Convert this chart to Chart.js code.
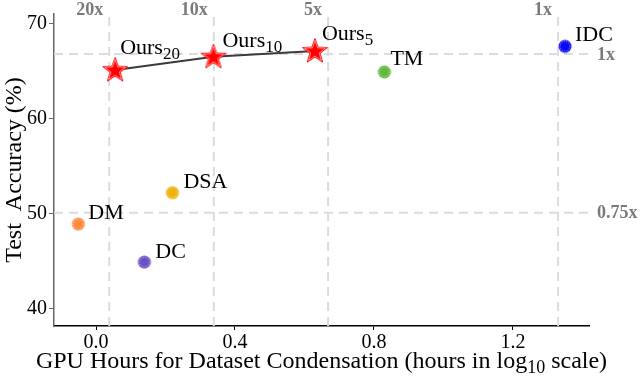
<!DOCTYPE html>
<html>
<head>
<meta charset="utf-8">
<script src="https://cdn.jsdelivr.net/npm/chart.js@4"></script>
<style>
  body { margin: 0; background: #fff; }
  #wrap { width: 640px; height: 380px; }
</style>
</head>
<body>
<div id="wrap"><canvas id="chart" width="640" height="380"></canvas></div>
<script>
// baselines
const methods = ["DM", "DC", "DSA", "TM", "IDC"];
const methodHours = [-0.051, 0.139, 0.22, 0.83, 1.35];
const methodAcc = [48.9, 44.9, 52.2, 64.9, 67.6];
const methodColors = ["#FF8A3D", "#6B4FC4", "#F0B10A", "#63B83F", "#0A0AF2"];
const labelOffsets = [[10, -5], [11, -4], [11, -5], [6, -7], [10, -5]];

// ours, connected by a line
const oursHours = [0.055, 0.338, 0.630];
const oursAcc = [65.1, 66.5, 67.1];
const oursSub = ["20", "10", "5"];
const oursOffsets = [[5, -16], [9, -10], [7, -11]];

// speed-up / accuracy reference lines
const costHours = [0.038, 0.339, 0.668, 1.330];
const costLabels = ["20x", "10x", "5x", "1x"];
const accLevels = [66.8, 50.1];
const accLabels = ["1x", "0.75x"];

const xTicks = [0.0, 0.4, 0.8, 1.2];
const yTicks = [40, 50, 60, 70];
const xMin = -0.121, xMax = 1.419, yMin = 38.18, yMax = 71.0;

const SERIF = "'Liberation Serif', 'DejaVu Serif', serif";

function starImage() {
  const c = document.createElement("canvas");
  c.width = 32; c.height = 32;
  const g = c.getContext("2d");
  const path = (R, r) => {
    g.beginPath();
    for (let i = 0; i < 10; i++) {
      const rad = i % 2 ? r : R;
      const a = -Math.PI / 2 + i * Math.PI / 5;
      g.lineTo(16 + rad * Math.cos(a), 16.5 + rad * Math.sin(a));
    }
    g.closePath();
  };
  path(13, 5.4);
  g.fillStyle = "#FF0000"; g.fill();
  g.strokeStyle = "#FF0000"; g.lineWidth = 1; g.stroke();
  path(11, 4.5);
  g.strokeStyle = "rgba(255,255,255,0.8)"; g.lineWidth = 0.7; g.stroke();
  return c;
}

function dotImage(col) {
  const c = document.createElement("canvas");
  c.width = 16; c.height = 16;
  const g = c.getContext("2d");
  g.beginPath(); g.arc(8, 8, 6.5, 0, Math.PI * 2);
  g.fillStyle = col; g.fill();
  g.beginPath(); g.arc(8, 8, 5, 0, Math.PI * 2);
  g.setLineDash([1.2, 1.2]);
  g.strokeStyle = "rgba(255,255,255,0.75)"; g.lineWidth = 0.8; g.stroke();
  return c;
}

const star = starImage();

const refSets = [];
costHours.forEach(h => refSets.push({
  data: [{x: h, y: yMin}, {x: h, y: yMax}],
  showLine: true, borderColor: "#dcdcdc", borderWidth: 2, borderDash: [9, 6],
  pointRadius: 0, order: 10
}));
accLevels.forEach(a => refSets.push({
  data: [{x: xMin, y: a}, {x: xMax, y: a}],
  showLine: true, borderColor: "#dcdcdc", borderWidth: 2, borderDash: [9, 6],
  pointRadius: 0, order: 10
}));

const labelPlugin = {
  id: "labels",
  afterDatasetsDraw(chart) {
    const ctx = chart.ctx, xs = chart.scales.x, ys = chart.scales.y;
    const area = chart.chartArea;
    ctx.save();
    ctx.textBaseline = "alphabetic";
    ctx.fillStyle = "#000";
    ctx.font = "22px " + SERIF;
    ctx.textAlign = "left";
    methods.forEach((m, i) => {
      const px = xs.getPixelForValue(methodHours[i]);
      const py = ys.getPixelForValue(methodAcc[i]);
      ctx.fillText(m, px + labelOffsets[i][0], py + labelOffsets[i][1]);
    });
    oursSub.forEach((s, i) => {
      const px = xs.getPixelForValue(oursHours[i]) + oursOffsets[i][0];
      const py = ys.getPixelForValue(oursAcc[i]) + oursOffsets[i][1];
      ctx.font = "22px " + SERIF;
      ctx.fillText("Ours", px, py);
      const w = ctx.measureText("Ours").width;
      ctx.font = "17px " + SERIF;
      ctx.fillText(s, px + w, py + 5);
    });
    // reference labels
    ctx.fillStyle = "#7a7a7a";
    ctx.font = "bold 18px " + SERIF;
    ctx.textAlign = "right";
    ctx.textBaseline = "middle";
    costLabels.forEach((t, i) => {
      ctx.fillText(t, xs.getPixelForValue(costHours[i]) - 6, 10);
    });
    ctx.textAlign = "left";
    accLabels.forEach((t, i) => {
      ctx.fillText(t, area.right + 8, ys.getPixelForValue(accLevels[i]) + 1);
    });
    // x title with subscript
    ctx.fillStyle = "#000";
    ctx.textBaseline = "alphabetic";
    const big = "24px " + SERIF, small = "18px " + SERIF;
    const parts = [["GPU Hours for Dataset Condensation (hours in log", big, 0], ["10", small, 5], [" scale)", big, 0]];
    let total = 0;
    parts.forEach(p => { ctx.font = p[1]; total += ctx.measureText(p[0]).width; });
    let x = (area.left + area.right) / 2 - total / 2;
    parts.forEach(p => {
      ctx.font = p[1];
      ctx.fillText(p[0], x, 368 + p[2]);
      x += ctx.measureText(p[0]).width;
    });
    ctx.restore();
  }
};

new Chart(document.getElementById("chart"), {
  type: "scatter",
  data: {
    datasets: [
      ...refSets,
      {
        data: oursHours.map((h, i) => ({x: h, y: oursAcc[i]})),
        showLine: true, borderColor: "#3b3b3b", borderWidth: 2,
        pointStyle: star, order: 1
      },
      {
        data: methodHours.map((h, i) => ({x: h, y: methodAcc[i]})),
        pointStyle: methodColors.map(c => dotImage(c)), order: 0
      }
    ]
  },
  options: {
    responsive: false,
    animation: false,
    layout: { padding: { top: 12, right: 51, left: 0, bottom: 0 } },
    plugins: { legend: { display: false }, tooltip: { enabled: false } },
    scales: {
      x: {
        type: "linear", min: xMin, max: xMax,
        afterBuildTicks: s => { s.ticks = xTicks.map(v => ({value: v})); },
        afterFit: s => { s.height = 54; },
        grid: { drawOnChartArea: false, drawTicks: true, tickLength: 4, color: "#000" },
        border: { color: "#000", width: 1.5 },
        ticks: { color: "#000", font: { family: SERIF, size: 20 }, padding: 1,
                 maxRotation: 0, callback: v => v.toFixed(1) }
      },
      y: {
        type: "linear", min: yMin, max: yMax,
        afterBuildTicks: s => { s.ticks = yTicks.map(v => ({value: v})); },
        afterFit: s => { s.width = 54; },
        grid: { drawOnChartArea: false, drawTicks: true, tickLength: 5, color: "#666" },
        border: { color: "#666", width: 1.5 },
        ticks: { color: "#000", font: { family: SERIF, size: 20 }, padding: 2 },
        title: { display: true, text: "Test  Accuracy (%)", color: "#000",
                 font: { family: SERIF, size: 24 }, padding: 0 }
      }
    }
  },
  plugins: [labelPlugin]
});
</script>
</body>
</html>
